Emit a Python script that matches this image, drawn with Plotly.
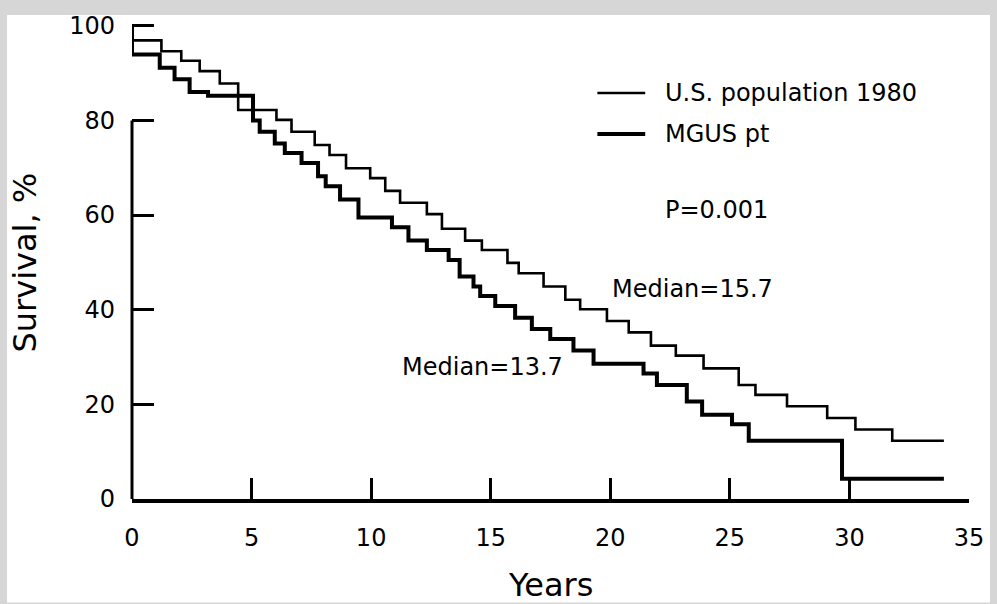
import plotly.graph_objects as go

# Kaplan-Meier style step curves: time (years) at which each level starts, survival (%)
us_years = [0, 0, 1.23, 2.06, 2.83, 3.67, 4.44, 6.04, 6.67, 7.64, 8.26, 8.95, 9.96,
            10.59, 11.21, 12.33, 12.96, 13.93, 14.63, 15.70, 16.17, 17.21, 18.12,
            18.74, 19.86, 20.77, 21.70, 22.74, 23.90, 25.37, 26.07, 27.39, 29.07,
            30.25, 31.79, 33.95]
us_surv = [100, 96.9, 94.6, 92.6, 90.4, 87.8, 82.2, 80.1, 77.6, 74.8, 72.7, 69.9, 67.8,
           65.1, 62.6, 60.2, 57.1, 54.6, 52.6, 49.9, 47.7, 44.9, 42.1,
           40.1, 37.6, 35.2, 32.4, 30.3, 27.6, 24.1, 22.0, 19.6, 17.1,
           14.7, 12.3, 12.3]

mgus_years = [0, 0, 1.16, 1.78, 2.41, 3.18, 5.06, 5.34, 5.97, 6.39, 7.09, 7.78, 8.10,
              8.70, 9.47, 10.87, 11.56, 12.33, 13.24, 13.70, 14.28, 14.56, 15.19,
              16.02, 16.72, 17.49, 18.46, 19.30, 21.39, 21.95, 23.20, 23.84, 25.09,
              25.79, 29.69, 33.95]
mgus_surv = [100, 93.9, 91.1, 88.7, 86.0, 85.2, 80.0, 77.6, 75.1, 73.1, 71.0, 68.2, 66.1,
             63.3, 59.5, 57.4, 54.6, 52.6, 50.5, 47.0, 44.9, 42.9, 40.8,
             38.3, 35.9, 33.8, 31.4, 28.6, 26.5, 24.1, 20.6, 17.8, 15.8,
             12.3, 4.3, 4.3]

x_ticks = [0, 5, 10, 15, 20, 25, 30, 35]
y_ticks = [0, 20, 40, 60, 80, 100]

series_names = ["U.S. population 1980", "MGUS pt"]
line_widths = [2.6, 4.0]
p_value_text = "P=0.001"
median_texts = ["Median=15.7", "Median=13.7"]

FONT = "DejaVu Sans"
INK = "black"

fig = go.Figure()
for xs, ys, name, w in [(us_years, us_surv, series_names[0], line_widths[0]),
                        (mgus_years, mgus_surv, series_names[1], line_widths[1])]:
    fig.add_trace(go.Scatter(
        x=xs, y=ys, mode="lines", name=name,
        line=dict(color=INK, width=w, shape="hv"),
        cliponaxis=False, showlegend=False,
    ))

# key in the upper right: a line sample beside each series name
key_x0, key_x1, key_text_x = 19.46, 21.46, 22.2
key_y = [85.8, 77.1]
shapes = [
    # white sheet on a grey scanner bed
    dict(type="rect", xref="paper", yref="paper", x0=-0.1493, x1=1.0251,
         y0=-0.2165, y1=1.0124, fillcolor="white", line=dict(width=0), layer="below"),
    # vertical axis rule
    dict(type="line", xref="paper", yref="y", x0=0, x1=0, y0=0, y1=80,
         line=dict(color=INK, width=3)),
]
annotations = []
for yk, name, w in zip(key_y, series_names, line_widths):
    shapes.append(dict(type="line", xref="x", yref="y", x0=key_x0, x1=key_x1,
                       y0=yk, y1=yk, line=dict(color=INK, width=w)))
    annotations.append(dict(x=key_text_x, y=yk, xref="x", yref="y", text=name,
                            showarrow=False, xanchor="left", yanchor="middle",
                            font=dict(family=FONT, size=24, color=INK)))

annotations += [
    dict(x=key_text_x, y=61.0, xref="x", yref="y", text=p_value_text, showarrow=False,
         xanchor="left", yanchor="middle", font=dict(family=FONT, size=24, color=INK)),
    dict(x=20.0, y=44.3, xref="x", yref="y", text=median_texts[0], showarrow=False,
         xanchor="left", yanchor="middle", font=dict(family=FONT, size=24, color=INK)),
    dict(x=11.22, y=27.9, xref="x", yref="y", text=median_texts[1], showarrow=False,
         xanchor="left", yanchor="middle", font=dict(family=FONT, size=24, color=INK)),
    dict(x=0.5, y=-0.1794, xref="paper", yref="paper", text="Years", showarrow=False,
         xanchor="center", yanchor="middle", font=dict(family=FONT, size=32, color=INK)),
    dict(x=-0.1278, y=0.4948, xref="paper", yref="paper", text="Survival, %",
         showarrow=False, textangle=-90, xanchor="center", yanchor="middle",
         font=dict(family=FONT, size=32, color=INK)),
]

fig.update_layout(
    width=997, height=604, autosize=False,
    margin=dict(l=132, r=28, t=14, b=105, pad=0),
    paper_bgcolor="#d6d6d6", plot_bgcolor="rgba(0,0,0,0)",
    shapes=shapes, annotations=annotations,
    showlegend=False,
)
fig.update_xaxes(
    range=[0, 35], tickvals=x_ticks, ticktext=[str(v) for v in x_ticks],
    ticks="inside", ticklen=21, tickwidth=2.5, tickcolor=INK,
    showline=True, linewidth=3.5, linecolor=INK, showgrid=False, zeroline=False,
    tickfont=dict(family=FONT, size=24, color=INK), ticklabelstandoff=14,
)
fig.update_yaxes(
    range=[0, 101], tickvals=y_ticks, ticktext=[str(v) for v in y_ticks],
    ticks="inside", ticklen=22, tickwidth=2.5, tickcolor=INK,
    showline=False, showgrid=False, zeroline=False,
    tickfont=dict(family=FONT, size=24, color=INK), ticklabelstandoff=16,
)

fig.write_html("out.html")
